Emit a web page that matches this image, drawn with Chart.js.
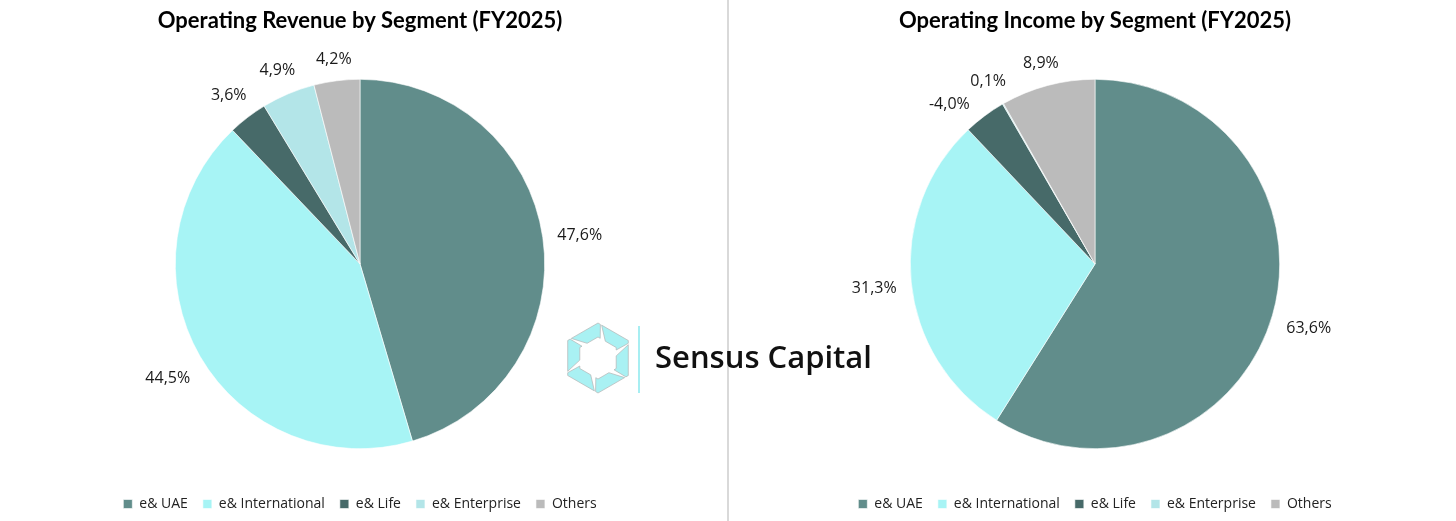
<!DOCTYPE html>
<html><head><meta charset="utf-8">
<script src="https://cdn.jsdelivr.net/npm/chart.js@4/dist/chart.umd.min.js"></script>
<style>
html,body{margin:0;padding:0;background:#fff;width:1456px;height:521px;overflow:hidden;position:relative;}
.cw{position:absolute;top:0;width:728px;height:521px;}
#w1{left:-4px;} #w2{left:731px;}
#divider{position:absolute;left:727px;top:0;width:2px;height:521px;background:#d9d9d9;}
#logoText{position:absolute;left:655px;top:335px;font-family:"Open Sans",sans-serif;font-weight:600;font-size:31px;color:#111;}
#logoBar{position:absolute;left:638px;top:326px;width:2px;height:67px;background:#a7eef2;}
</style></head>
<body>
<div id="divider"></div>
<div class="cw" id="w1"><canvas id="c1" width="728" height="521"></canvas></div>
<div class="cw" id="w2"><canvas id="c2" width="728" height="521"></canvas></div>
<svg id="logo" width="80" height="80" viewBox="-40 -40 80 80" style="left:558px;top:318px;position:absolute">
  <g id="blades" fill="#a9f1f3" stroke="#b5b5b5" stroke-width="0.7" stroke-linejoin="round"></g>
</svg>
<div id="logoBar"></div>
<div id="logoText">Sensus Capital</div>
<script>
const categories = ["e& UAE", "e& International", "e& Life", "e& Enterprise", "Others"];
const revenueShare = [47.6, 44.5, 3.6, 4.9, 4.2];
const incomeShare = [63.6, 31.3, -4.0, 0.1, 8.9];
const sliceColors = ["#618d8b", "#a7f4f5", "#476a69", "#b3e5e8", "#bbbbbb"];
const titles = ["Operating Revenue by Segment (FY2025)", "Operating Income by Segment (FY2025)"];

// logo blades (decorative)
(function(){
  const g = document.getElementById('blades');
  const pol = (r, a) => [r * Math.cos(a * Math.PI / 180), r * Math.sin(a * Math.PI / 180)];
  const lerp = (p, q, t) => [p[0] + (q[0] - p[0]) * t, p[1] + (q[1] - p[1]) * t];
  const R = 35, Ri = 21;
  for (let k = 0; k < 6; k++) {
    const a = -90 + 60 * k, b = a + 60, c = b + 60;
    const Va = pol(R, a), Vb = pol(R, b), Vc = pol(R, c);
    const Ia = pol(Ri, a), Ib = pol(Ri, b), Ic = pol(Ri, c);
    const pts = [lerp(Va, Vb, 0.12), Vb, lerp(Vb, Vc, 0.08), lerp(Ib, Ic, 0.12), Ib, lerp(Ia, Ib, 0.4)];
    const p = document.createElementNS('http://www.w3.org/2000/svg', 'polygon');
    p.setAttribute('points', pts.map(q => q[0].toFixed(1) + ',' + q[1].toFixed(1)).join(' '));
    g.appendChild(p);
  }
})();

const fmt = v => v.toFixed(1).replace('.', ',') + '%';

const outsideLabels = {
  id: 'outsideLabels',
  afterDatasetsDraw(chart) {
    const ctx = chart.ctx;
    const meta = chart.getDatasetMeta(0);
    const raw = chart.data.datasets[0].rawValues;
    ctx.save();
    ctx.font = '16px "Open Sans", sans-serif';
    ctx.fillStyle = '#1a1a1a';
    ctx.textAlign = 'center';
    ctx.textBaseline = 'middle';
    const h = 16, margin = 7;
    const placed = [];
    const boxAt = (p, ang, w) => {
      const c = Math.cos(ang), s = Math.sin(ang);
      const ext = Math.abs(c) * w / 2 + Math.abs(s) * h / 2;
      const d = p.outerRadius + 14 + ext;
      const x = p.x + c * d, y = p.y + s * d;
      return {x, y, l: x - w / 2, r: x + w / 2, t: y - h / 2, b: y + h / 2};
    };
    const hit = (a, b) => !(a.r + margin < b.l || b.r + margin < a.l || a.b + margin < b.t || b.b + margin < a.t);
    for (let i = meta.data.length - 1; i >= 0; i--) {
      const arc = meta.data[i];
      const p = arc.getProps(['x','y','startAngle','endAngle','outerRadius'], true);
      let ang = (p.startAngle + p.endAngle) / 2;
      const txt = fmt(raw[i]);
      const w = ctx.measureText(txt).width;
      let bx = boxAt(p, ang, w);
      let guard = 0;
      while (placed.some(q => hit(q, bx)) && guard < 200) {
        ang -= 0.005;
        bx = boxAt(p, ang, w);
        guard++;
      }
      placed.push(bx);
      ctx.fillText(txt, bx.x, bx.y + 3);
    }
    ctx.restore();
  }
};

function makeChart(id, values, title) {
  return new Chart(document.getElementById(id), {
    type: 'pie',
    data: {
      labels: categories,
      datasets: [{
        data: values.map(v => Math.abs(v)),
        rawValues: values,
        backgroundColor: sliceColors,
        borderColor: '#ffffff',
        borderWidth: 0.6
      }]
    },
    options: {
      responsive: false,
      animation: false,
      devicePixelRatio: 1,
      layout: { padding: 0 },
      plugins: {
        tooltip: { enabled: false },
        title: {
          display: true,
          text: title,
          color: '#000',
          font: { family: 'Lato', size: 22, weight: 'bold' },
          padding: { top: 8, bottom: 44.6 }
        },
        legend: {
          position: 'bottom',
          title: { display: true, text: ' ', font: { size: 10 }, padding: { top: 21, bottom: 0 } },
          labels: {
            color: '#222',
            font: { family: '"Open Sans", sans-serif', size: 14 },
            boxWidth: 9,
            boxHeight: 9,
            padding: 15
          }
        }
      }
    },
    plugins: [outsideLabels]
  });
}
makeChart('c1', revenueShare, titles[0]);
makeChart('c2', incomeShare, titles[1]);
</script>
</body></html>
